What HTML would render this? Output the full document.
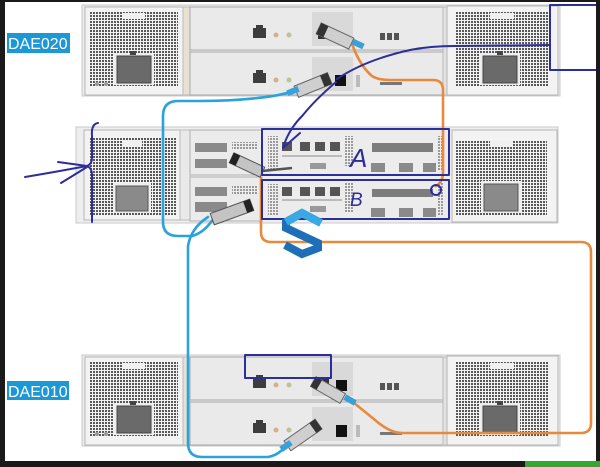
<!DOCTYPE html>
<html><head><meta charset="utf-8"><style>
html,body{margin:0;padding:0;background:#fff;}
svg{display:block;}
</style></head><body>
<svg width="600" height="467" viewBox="0 0 600 467" xmlns="http://www.w3.org/2000/svg">
<defs>
<pattern id="g" width="3" height="3" patternUnits="userSpaceOnUse"><rect width="3" height="3" fill="#f2f2f2"/><rect width="2" height="2" fill="#585858"/></pattern>
<pattern id="g2" width="3" height="3" patternUnits="userSpaceOnUse"><rect width="3" height="3" fill="#eeeeee"/><rect width="2" height="2" fill="#9a9a9a"/></pattern>
<g id="dae">
  <rect x="82" y="5" width="478" height="91" fill="#ececec" stroke="#c9c9c9"/>
  <rect x="85" y="7" width="98" height="88" fill="#f3f3f3" stroke="#b5b5b5"/>
  <rect x="90" y="12" width="88" height="74" fill="url(#g)"/>
  <rect x="122" y="13" width="23" height="6" fill="#f0f0f0"/>
  <rect x="114" y="53" width="40" height="32" fill="#eeeeee"/>
  <rect x="117" y="56" width="34" height="27" fill="#6a6a6a" stroke="#444"/>
  <rect x="130" y="51" width="6" height="4" fill="#444"/>
  <circle cx="97" cy="84" r="2" fill="#999"/><circle cx="106" cy="84" r="2" fill="#999"/>
  <rect x="183" y="7" width="7" height="88" fill="#e6e2d2" stroke="#bbb"/>
  <rect x="190" y="7" width="253" height="43" fill="#eaeaea" stroke="#a8a8a8"/>
  <rect x="190" y="52" width="253" height="43" fill="#eaeaea" stroke="#a8a8a8"/>
  <rect x="253" y="28" width="13" height="10" fill="#3d3d3d"/><rect x="256" y="25" width="7" height="3" fill="#3d3d3d"/>
  <rect x="253" y="73" width="13" height="10" fill="#3d3d3d"/><rect x="256" y="70" width="7" height="3" fill="#3d3d3d"/>
  <circle cx="276" cy="35" r="2.5" fill="#d3b08e"/><circle cx="289" cy="35" r="2.5" fill="#b8c49a"/>
  <circle cx="276" cy="80" r="2.5" fill="#d3b08e"/><circle cx="289" cy="80" r="2.5" fill="#b8c49a"/>
  <rect x="312" y="12" width="41" height="34" fill="#d9d9d9"/>
  <rect x="312" y="57" width="41" height="34" fill="#d9d9d9"/>
  <rect x="318" y="28" width="11" height="11" fill="#333"/>
  <rect x="380" y="33" width="5" height="7" fill="#555"/><rect x="387" y="33" width="5" height="7" fill="#555"/><rect x="394" y="33" width="5" height="7" fill="#555"/>
  <rect x="380" y="82" width="22" height="3" fill="#777"/>
  <rect x="356" y="75" width="4" height="12" fill="#bbb"/>
  <rect x="443" y="7" width="5" height="88" fill="#e2e2e2" stroke="#bbb"/>
  <rect x="447" y="6" width="111" height="89" fill="#f3f3f3" stroke="#b5b5b5"/>
  <rect x="455" y="12" width="93" height="75" fill="url(#g)"/>
  <rect x="490" y="13" width="24" height="6" fill="#f0f0f0"/>
  <rect x="480" y="53" width="40" height="32" fill="#eeeeee"/>
  <rect x="483" y="56" width="34" height="27" fill="#6a6a6a" stroke="#444"/>
  <rect x="497" y="51" width="6" height="4" fill="#444"/>
</g>
</defs>

<rect width="600" height="467" fill="#ffffff"/>

<!-- DAE020 -->
<use href="#dae"/>
<rect x="335" y="75" width="11" height="11" fill="#111"/>

<!-- DAE010 -->
<use href="#dae" transform="translate(0,350)"/>
<rect x="336" y="380" width="11" height="11" fill="#111"/>
<rect x="336" y="425" width="11" height="12" fill="#111"/>

<!-- DPE -->
<rect x="76" y="127" width="482" height="96" fill="#eeeeee" stroke="#c9c9c9"/>
<rect x="84" y="130" width="96" height="90" fill="#f3f3f3" stroke="#b5b5b5"/>
<rect x="90" y="138" width="87" height="77" fill="url(#g)"/>
<rect x="122" y="140" width="20" height="6" fill="#f0f0f0"/>
<rect x="113" y="183" width="38" height="30" fill="#eeeeee"/>
<rect x="116" y="186" width="32" height="25" fill="#8a8a8a" stroke="#555"/>
<rect x="180" y="130" width="10" height="90" fill="#e9e9e9" stroke="#bbb"/>
<rect x="190" y="130" width="72" height="45" fill="#ebebeb" stroke="#b0b0b0"/>
<rect x="190" y="177" width="72" height="44" fill="#ebebeb" stroke="#b0b0b0"/>
<rect x="195" y="143" width="32" height="9" fill="#8a8a8a"/>
<rect x="195" y="159" width="32" height="9" fill="#8a8a8a"/>
<rect x="195" y="187" width="32" height="9" fill="#8a8a8a"/>
<rect x="195" y="202" width="32" height="10" fill="#8a8a8a"/>
<rect x="232" y="142" width="26" height="8" fill="url(#g2)"/>
<rect x="232" y="186" width="26" height="8" fill="url(#g2)"/>
<!-- controller modules -->
<rect x="262" y="130" width="187" height="45" fill="#ececec"/>
<rect x="262" y="180" width="187" height="39" fill="#ececec"/>
<rect x="268" y="136" width="10" height="34" fill="url(#g2)"/>
<rect x="268" y="184" width="10" height="32" fill="url(#g2)"/>
<rect x="282" y="142" width="10" height="9" fill="#555"/><rect x="300" y="142" width="10" height="9" fill="#555"/><rect x="315" y="142" width="10" height="9" fill="#555"/><rect x="330" y="142" width="10" height="9" fill="#555"/>
<rect x="282" y="187" width="10" height="9" fill="#555"/><rect x="300" y="187" width="10" height="9" fill="#555"/><rect x="315" y="187" width="10" height="9" fill="#555"/><rect x="330" y="187" width="10" height="9" fill="#555"/>
<rect x="282" y="155" width="60" height="2" fill="#bbb"/><rect x="282" y="199" width="60" height="2" fill="#bbb"/>
<rect x="310" y="163" width="16" height="6" fill="#999"/><rect x="310" y="206" width="16" height="6" fill="#999"/>
<rect x="345" y="136" width="8" height="30" fill="url(#g2)"/><rect x="345" y="183" width="8" height="30" fill="url(#g2)"/>
<rect x="372" y="143" width="61" height="9" fill="#7d7d7d"/>
<rect x="372" y="189" width="61" height="8" fill="#7d7d7d"/>
<rect x="371" y="163" width="14" height="9" fill="#8a8a8a"/><rect x="399" y="163" width="14" height="9" fill="#8a8a8a"/><rect x="423" y="163" width="13" height="9" fill="#8a8a8a"/>
<rect x="371" y="208" width="14" height="9" fill="#8a8a8a"/><rect x="399" y="208" width="14" height="9" fill="#8a8a8a"/><rect x="423" y="208" width="13" height="9" fill="#8a8a8a"/>
<rect x="438" y="136" width="6" height="34" fill="url(#g2)"/><rect x="438" y="183" width="6" height="32" fill="url(#g2)"/>
<rect x="452" y="130" width="105" height="92" fill="#f3f3f3" stroke="#b5b5b5"/>
<rect x="456" y="140" width="91" height="75" fill="url(#g)"/>
<rect x="490" y="141" width="22" height="6" fill="#f0f0f0"/>
<rect x="481" y="181" width="40" height="32" fill="#eeeeee"/>
<rect x="484" y="184" width="34" height="27" fill="#8a8a8a" stroke="#555"/>

<!-- orange cables -->
<g fill="none" stroke="#e88a3c" stroke-width="2.6" stroke-linecap="round">
  <path d="M352,44 Q360,66 372,76 Q378,80 390,80 L433,80 Q443,80 443,90 L443,172 Q443,182 436,186"/>
  <path d="M261,178 L261,232 Q261,242 271,242 L581,242 Q591,242 591,252 L591,423 Q591,433 581,433 L402,433 Q390,433 375,420 L348,398"/>
</g>

<!-- cyan cables -->
<g fill="none" stroke="#2aa3dc" stroke-width="2.6" stroke-linecap="round">
  <path d="M296,90 C280,97 240,101 200,101 L178,101 Q163,101 163,116 L163,222 Q163,236 178,236 L192,236 Q204,233 214,218"/>
  <path d="M208,217 Q191,228 188,246 L188,443 Q188,457 202,457 L268,457 Q280,455 288,443"/>
</g>

<!-- plugs -->
<g transform="translate(335,36) rotate(25)"><rect x="-18" y="-6" width="36" height="12" fill="#cfcfcf" stroke="#666"/><rect x="-18" y="-6" width="8" height="12" fill="#333"/></g>
<rect x="352" y="41" width="12" height="6" fill="#3aa0d8" transform="rotate(25 358 44)"/>
<g transform="translate(313,85) rotate(-22)"><rect x="-18" y="-6" width="36" height="12" fill="#cfcfcf" stroke="#666"/><rect x="10" y="-6" width="8" height="12" fill="#333"/></g>
<rect x="287" y="88" width="12" height="6" fill="#3aa0d8" transform="rotate(-22 293 91)"/>
<g transform="translate(247,165) rotate(25)"><rect x="-17" y="-5.5" width="34" height="11" fill="#c4c4c4" stroke="#555"/><rect x="-17" y="-5.5" width="7" height="11" fill="#222"/></g>
<path d="M262,171 L292,168" stroke="#555" stroke-width="2.5"/>
<g transform="translate(232,212) rotate(-20)"><rect x="-21" y="-6" width="42" height="12" fill="#c4c4c4" stroke="#555"/><rect x="14" y="-6" width="7" height="12" fill="#222"/></g>
<g transform="translate(328,390) rotate(30)"><rect x="-17" y="-5.5" width="34" height="11" fill="#cfcfcf" stroke="#666"/><rect x="-17" y="-5.5" width="7" height="11" fill="#333"/></g>
<rect x="344" y="397" width="12" height="6" fill="#3aa0d8" transform="rotate(30 350 400)"/>
<g transform="translate(303,435) rotate(-35)"><rect x="-19" y="-6" width="38" height="12" fill="#cfcfcf" stroke="#666"/><rect x="12" y="-6" width="7" height="12" fill="#333"/></g>
<rect x="280" y="443" width="12" height="6" fill="#3aa0d8" transform="rotate(-35 286 446)"/>

<!-- hand-drawn dark blue -->
<g fill="none" stroke="#2d2d9c" stroke-width="2" stroke-linecap="round" stroke-linejoin="round">
  <rect x="262" y="129" width="187" height="46"/>
  <rect x="262" y="180" width="187" height="39"/>
  <rect x="245" y="355" width="86" height="23"/>
  <path d="M337,79 Q365,60 410,50 Q430,46 455,46 L550,45"/>
  <path d="M596,5 L550,5 L550,70 L596,70"/>
  <path d="M336,82 Q315,100 303,115 Q288,130 283,148 L300,133"/>
  <path d="M98,123 Q91,124 92,136 L92,158 Q92,164 87,166 Q92,168 92,175 L92,222"/>
  <path d="M25,177 Q55,172 87,166"/>
  <path d="M58,162 L87,166"/>
  <path d="M61,183 L87,167"/>
  <ellipse cx="436" cy="190" rx="5" ry="5"/>
</g>
<text x="350" y="167" font-family="Liberation Sans, sans-serif" font-size="26" font-style="italic" fill="#2d2d9c">A</text>
<text x="350" y="206" font-family="Liberation Sans, sans-serif" font-size="19" font-style="italic" fill="#2d2d9c">B</text>

<!-- logo -->
<path d="M321,223 L302,213 L286,222 L286,228 L318,243 L318,248 L302,254 L285,245" fill="none" stroke="#1f6fb8" stroke-width="8" stroke-linejoin="miter"/>
<path d="M321,223 L302,213 L286,222" fill="none" stroke="#3aa8e4" stroke-width="8"/>

<!-- labels -->
<rect x="7" y="33" width="63" height="20" fill="#1c98d6"/>
<text x="8" y="49" font-family="Liberation Sans, sans-serif" font-size="16" fill="#ffffff">DAE020</text>
<rect x="7" y="381" width="62" height="19" fill="#1c98d6"/>
<text x="8" y="397" font-family="Liberation Sans, sans-serif" font-size="16" fill="#ffffff">DAE010</text>

<!-- frame borders -->
<rect x="0" y="0" width="5" height="467" fill="#1a1a1a"/>
<rect x="0" y="0" width="600" height="2" fill="#1a1a1a"/>
<rect x="596" y="0" width="4" height="467" fill="#1a1a1a"/>
<rect x="0" y="461" width="600" height="6" fill="#1a1a1a"/>
<rect x="525" y="461" width="75" height="6" fill="#2eaa2e"/>
</svg>
</body></html>
